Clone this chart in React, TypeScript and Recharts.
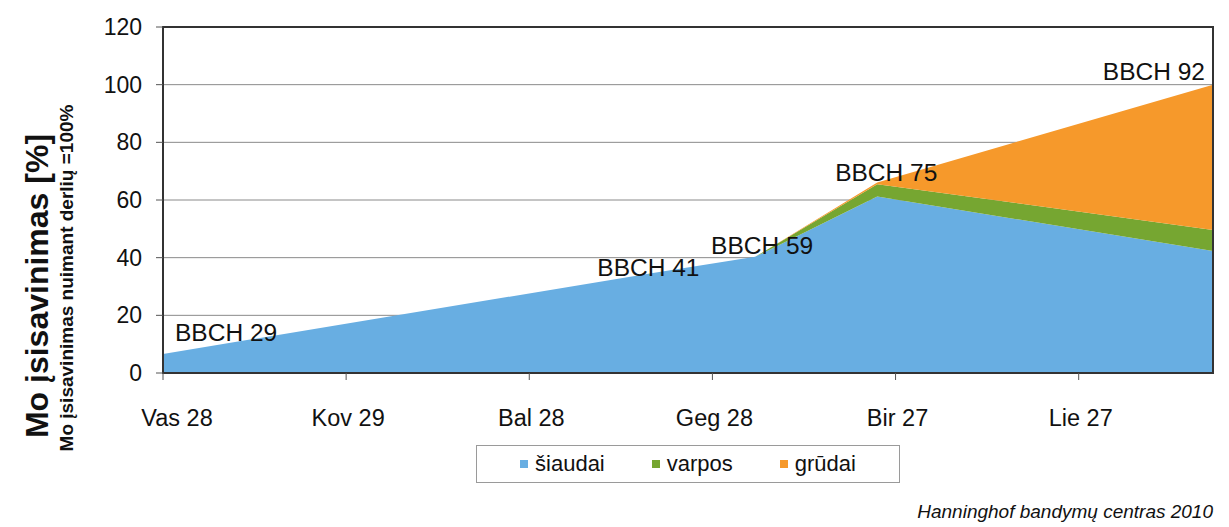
import {
  AreaChart,
  Area,
  XAxis,
  YAxis,
  CartesianGrid,
  Legend,
  LabelList,
  Label,
  ReferenceArea,
} from "recharts";

// days after Feb 28 (2010)
const days = [0, 80, 97, 117, 172];
const stages = ["BBCH 29", "BBCH 41", "BBCH 59", "BBCH 75", "BBCH 92"];
const siaudai = [6.6, 34.6, 40.3, 61.2, 42.3];
const varpos = [0, 0, 0, 4.3, 7.3];
const grudai = [0, 0, 0, 0.6, 50.4];

const xTicks = [0, 30, 60, 90, 120, 150];
const xTickLabels = ["Vas 28", "Kov 29", "Bal 28", "Geg 28", "Bir 27", "Lie 27"];
const yTicks = [0, 20, 40, 60, 80, 100, 120];

const series = [
  { key: "siaudai", name: "šiaudai", color: "#68aee2" },
  { key: "varpos", name: "varpos", color: "#76a631" },
  { key: "grudai", name: "grūdai", color: "#f6992b" },
];

const data = days.map((d, i) => ({
  day: d,
  bbch: stages[i],
  siaudai: siaudai[i],
  varpos: varpos[i],
  grudai: grudai[i],
}));

const FONT = '"Liberation Sans", Arial, sans-serif';

// where each stage label sits relative to its point
const labelPlacement = [
  { dx: 12, dy: -21, anchor: "start" },
  { dx: -3, dy: -6, anchor: "middle" },
  { dx: 7, dy: -11, anchor: "middle" },
  { dx: 9, dy: -10, anchor: "middle" },
  { dx: -8, dy: -13, anchor: "end" },
];

const StageLabel = (props: any) => {
  const { x, y, index, value } = props;
  const p = labelPlacement[index] ?? { dx: 0, dy: -12, anchor: "middle" };
  if (!value) return null;
  return (
    <text
      x={x + p.dx}
      y={y + p.dy}
      textAnchor={p.anchor}
      dominantBaseline="central"
      fontSize={24.5}
      fill="#111"
      fontFamily={FONT}
    >
      {value}
    </text>
  );
};

const DateTick = (props: any) => {
  const { x, y, payload } = props;
  const i = xTicks.indexOf(payload.value);
  return (
    <text
      x={x + (i === 0 ? 14 : 2)}
      y={y + 38}
      textAnchor="middle"
      dominantBaseline="central"
      fontSize={23.5}
      fill="#111"
      fontFamily={FONT}
    >
      {xTickLabels[i]}
    </text>
  );
};

const YTitles = (props: any) => {
  const { viewBox } = props;
  const bx = viewBox.x;
  return (
    <g fontFamily={FONT} fill="#111" fontWeight="bold">
      <text
        transform={`translate(${bx + 37}, 286) rotate(-90)`}
        textAnchor="middle"
        dominantBaseline="central"
        fontSize={32}
      >
        Mo įsisavinimas [%]
      </text>
      <text
        transform={`translate(${bx + 66}, 278) rotate(-90)`}
        textAnchor="middle"
        dominantBaseline="central"
        fontSize={19}
      >
        Mo įsisavinimas nuimant derlių =100%
      </text>
    </g>
  );
};

const LegendBox = () => (
  <div
    style={{
      boxSizing: "border-box",
      width: 424,
      height: 38,
      border: "1.5px solid #9a9a9a",
      background: "#fff",
      display: "flex",
      alignItems: "center",
      justifyContent: "center",
      gap: 47,
      fontFamily: FONT,
      fontSize: 22,
      color: "#111",
    }}
  >
    {series.map((s) => (
      <span key={s.key} style={{ display: "inline-flex", alignItems: "center" }}>
        <span
          style={{
            display: "inline-block",
            width: 8,
            height: 8,
            background: s.color,
            marginRight: 7,
          }}
        />
        {s.name}
      </span>
    ))}
  </div>
);

export default function App() {
  return (
    <div
      style={{
        position: "absolute",
        left: 0,
        top: 0,
        width: 1229,
        height: 527,
        background: "#fff",
        fontFamily: FONT,
      }}
    >
      <AreaChart
        width={1229}
        height={527}
        data={data}
        margin={{ top: 27, right: 16, bottom: 114, left: 0 }}
      >
        <CartesianGrid vertical={false} stroke="#8a8a8a" strokeWidth={1} />
        <XAxis
          dataKey="day"
          type="number"
          domain={[0, 172]}
          ticks={xTicks}
          interval={0}
          height={40}
          tickSize={7}
          tickMargin={0}
          tick={<DateTick />}
          axisLine={{ stroke: "#333", strokeWidth: 2 }}
          tickLine={{ stroke: "#555" }}
        />
        <YAxis
          type="number"
          domain={[0, 120]}
          ticks={yTicks}
          interval={0}
          width={163}
          tickSize={7}
          tickMargin={14}
          tick={{ fontSize: 23, fill: "#111", fontFamily: FONT }}
          axisLine={{ stroke: "#333", strokeWidth: 2 }}
          tickLine={{ stroke: "#555" }}
        >
          <Label content={<YTitles />} />
        </YAxis>
        {series.map((s, i) => (
          <Area
            key={s.key}
            type="linear"
            dataKey={s.key}
            name={s.name}
            stackId="mo"
            stroke="none"
            fill={s.color}
            fillOpacity={1}
            dot={false}
            activeDot={false}
            isAnimationActive={false}
          >
            {i === series.length - 1 && (
              <LabelList dataKey="bbch" content={<StageLabel />} />
            )}
          </Area>
        ))}
        <ReferenceArea
          x1={0}
          x2={172}
          y1={0}
          y2={120}
          fill="none"
          stroke="#333"
          strokeWidth={2}
        />
        <Legend
          layout="vertical"
          align="center"
          verticalAlign="middle"
          content={<LegendBox />}
          wrapperStyle={{ left: 476, top: 445, width: 424, height: 38 }}
        />
      </AreaChart>
      <div
        style={{
          position: "absolute",
          right: 16,
          top: 501,
          fontSize: 19,
          fontStyle: "italic",
          color: "#111",
          fontFamily: FONT,
          whiteSpace: "nowrap",
        }}
      >
        Hanninghof bandymų centras 2010
      </div>
    </div>
  );
}
